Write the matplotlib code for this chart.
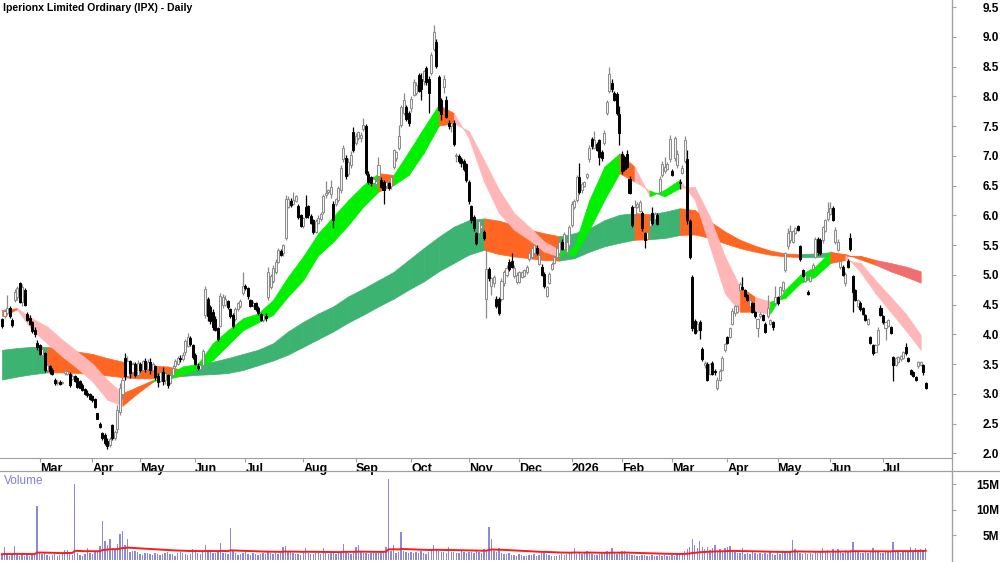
import numpy as np
import pandas as pd
import matplotlib
matplotlib.use('Agg')
import matplotlib.pyplot as plt
from matplotlib.lines import Line2D

plt.rcParams['font.family'] = ['Liberation Sans Narrow', 'Liberation Sans', 'DejaVu Sans']

TITLE = 'Iperionx Limited Ordinary (IPX) - Daily'
START = '2025-02-10'
HOLIDAYS = ['2025-04-18', '2025-04-21', '2025-04-25', '2025-06-09', '2025-12-25',
            '2025-12-26', '2026-01-01', '2026-01-26', '2026-04-03', '2026-04-06',
            '2026-06-08']

OPEN = [4.25, 4.30, 4.36, 4.45, 4.24, 4.58, 4.62, 4.86, 4.55, 4.75,
        4.35, 4.28, 4.20, 4.08, 3.86, 3.82, 3.66, 3.68, 3.40, 3.47,
        3.40, 3.24, 3.18, 3.20, 3.18, 3.35, 3.34, 3.34, 3.25, 3.30,
        3.26, 3.22, 3.15, 3.08, 3.02, 3.00, 2.96, 2.92, 2.67, 2.50,
        2.34, 2.30, 2.20, 2.14, 2.48, 2.25, 2.40, 2.70, 3.00, 3.60,
        3.30, 3.55, 3.36, 3.50, 3.32, 3.50, 3.40, 3.55, 3.42, 3.54,
        3.40, 3.46, 3.30, 3.22, 3.36, 3.24, 3.32, 3.18, 3.32, 3.46,
        3.50, 3.60, 3.58, 3.70, 3.80, 3.94, 3.82, 3.66, 3.46, 3.42,
        3.48, 4.32, 4.60, 4.46, 4.38, 4.25, 4.10, 4.14, 4.50, 4.50,
        4.56, 4.42, 4.32, 4.26, 4.42, 4.48, 4.70, 4.82, 4.78, 4.58,
        4.50, 4.52, 4.44, 4.34, 4.24, 4.30, 4.62, 4.80, 4.90, 5.04,
        5.22, 5.40, 5.36, 5.62, 6.14, 6.25, 6.20, 6.24, 6.15, 6.00,
        5.82, 6.14, 6.16, 5.99, 5.92, 5.72, 5.88, 5.94, 6.06, 6.34,
        6.40, 6.36, 6.20, 6.20, 6.26, 6.42, 6.94, 6.96, 6.70, 6.84,
        7.40, 7.22, 7.30, 7.30, 7.46, 7.50, 6.70, 6.64, 6.54, 6.52,
        6.66, 6.60, 6.56, 6.50, 6.54, 6.50, 6.82, 6.96, 7.14, 7.52,
        7.72, 7.82, 7.72, 7.80, 8.03, 8.06, 8.36, 8.30, 8.26, 8.48,
        8.30, 8.40, 8.80, 8.92, 8.33, 7.94, 8.16, 7.94, 7.56, 7.50,
        7.56, 7.00, 7.00, 6.94, 6.92, 6.86, 6.57, 6.15, 5.98, 5.70,
        5.70, 5.78, 5.72, 4.60, 5.10, 4.82, 4.86, 4.60, 4.60, 4.60,
        4.86, 5.00, 5.22, 5.24, 4.98, 4.88, 4.88, 4.96, 4.98, 5.04,
        5.26, 5.30, 5.36, 5.46, 5.18, 5.14, 5.02, 4.64, 4.86, 5.10,
        5.20, 5.30, 5.36, 5.56, 5.44, 5.38, 5.50, 5.84, 6.14, 6.26,
        6.64, 6.42, 6.50, 6.64, 6.94, 7.28, 7.14, 7.20, 7.26, 7.06,
        7.22, 7.72, 8.10, 8.22, 8.06, 8.04, 7.70, 7.04, 6.98, 7.04,
        6.62, 6.14, 6.02, 6.14, 6.08, 6.04, 5.70, 5.60, 5.82, 6.04,
        5.94, 6.00, 6.40, 6.68, 6.74, 6.78, 6.94, 6.74, 6.96, 6.84,
        6.56, 6.72, 6.92, 6.94, 5.90, 4.97, 4.22, 4.08, 4.20, 3.76,
        3.48, 3.50, 3.34, 3.52, 3.38, 3.10, 3.24, 3.40, 3.74, 3.96,
        3.96, 4.18, 4.36, 4.38, 4.74, 4.80, 4.74, 4.66, 4.48, 4.52,
        4.38, 4.10, 4.30, 4.32, 4.18, 4.30, 4.18, 4.20, 4.52, 4.62,
        4.64, 4.74, 5.08, 5.48, 5.58, 5.56, 5.70, 5.82, 5.48, 5.08,
        4.90, 4.72, 4.90, 5.10, 5.30, 5.60, 5.58, 5.58, 5.74, 5.94,
        6.02, 6.12, 5.56, 5.42, 5.14, 5.14, 4.86, 5.24, 5.62, 4.98,
        4.74, 4.48, 4.52, 4.44, 4.32, 4.18, 3.96, 3.82, 3.70, 3.84,
        4.44, 4.30, 4.10, 4.14, 4.12, 3.62, 3.48, 3.54, 3.58, 3.60,
        3.78, 3.60, 3.40, 3.36, 3.28, 3.46, 3.48, 3.48, 3.18]

HIGH = [4.28, 4.42, 4.66, 4.48, 4.27, 4.76, 4.82, 4.88, 4.84, 4.78,
        4.37, 4.32, 4.23, 4.12, 3.90, 3.84, 3.80, 3.70, 3.51, 3.49,
        3.43, 3.26, 3.23, 3.23, 3.22, 3.40, 3.40, 3.36, 3.34, 3.32,
        3.28, 3.23, 3.18, 3.10, 3.06, 3.01, 2.98, 2.93, 2.68, 2.52,
        2.36, 2.34, 2.25, 2.28, 2.50, 2.39, 2.81, 3.18, 3.29, 3.68,
        3.63, 3.57, 3.53, 3.54, 3.57, 3.54, 3.57, 3.60, 3.58, 3.60,
        3.54, 3.48, 3.35, 3.40, 3.45, 3.40, 3.34, 3.36, 3.48, 3.58,
        3.64, 3.66, 3.70, 3.92, 4.03, 3.98, 3.84, 3.68, 3.52, 3.50,
        3.76, 4.82, 4.63, 4.50, 4.42, 4.30, 4.12, 4.70, 4.68, 4.66,
        4.58, 4.44, 4.36, 4.46, 4.54, 4.60, 5.04, 4.85, 4.80, 4.60,
        4.56, 4.54, 4.48, 4.36, 4.34, 4.36, 5.14, 5.02, 5.16, 5.27,
        5.46, 5.44, 5.52, 6.34, 6.32, 6.30, 6.40, 6.34, 6.20, 6.02,
        5.98, 6.34, 6.18, 6.02, 5.94, 5.94, 6.00, 6.06, 6.36, 6.58,
        6.45, 6.60, 6.24, 6.30, 6.50, 6.84, 7.18, 7.02, 6.96, 7.08,
        7.48, 7.38, 7.42, 7.40, 7.64, 7.54, 6.74, 6.66, 6.66, 6.62,
        6.98, 6.64, 6.60, 6.60, 6.56, 6.68, 7.12, 7.08, 7.52, 7.86,
        8.06, 7.86, 7.76, 8.00, 8.30, 8.24, 8.40, 8.40, 8.45, 8.52,
        8.34, 8.75, 9.20, 8.96, 8.36, 7.98, 8.36, 8.00, 7.60, 7.58,
        7.60, 7.05, 7.04, 6.98, 6.95, 6.88, 6.60, 6.18, 6.00, 5.72,
        5.94, 5.88, 5.76, 5.46, 5.14, 4.96, 5.00, 4.64, 4.62, 4.94,
        5.08, 5.16, 5.26, 5.36, 5.16, 5.04, 5.06, 5.06, 5.10, 5.16,
        5.38, 5.48, 5.52, 5.50, 5.38, 5.18, 5.04, 4.82, 5.04, 5.22,
        5.32, 5.48, 5.60, 5.60, 5.72, 5.58, 5.84, 6.24, 6.28, 6.68,
        6.88, 6.56, 6.58, 6.72, 7.18, 7.32, 7.42, 7.24, 7.28, 7.10,
        7.44, 7.94, 8.50, 8.30, 8.10, 8.08, 7.84, 7.08, 7.02, 7.10,
        6.66, 6.18, 6.26, 6.22, 6.26, 6.08, 5.72, 5.76, 5.94, 6.14,
        6.06, 6.04, 6.66, 6.92, 6.98, 6.90, 7.35, 6.78, 7.34, 7.10,
        6.62, 6.84, 7.34, 7.10, 5.94, 5.00, 4.26, 4.22, 4.24, 3.78,
        3.56, 3.54, 3.52, 3.56, 3.42, 3.28, 3.42, 3.64, 3.86, 3.98,
        4.12, 4.44, 4.50, 4.50, 4.88, 4.96, 4.76, 4.68, 4.60, 4.54,
        4.40, 4.28, 4.38, 4.34, 4.20, 4.66, 4.26, 4.22, 4.82, 4.64,
        4.82, 4.90, 5.38, 5.78, 5.84, 5.76, 5.80, 5.84, 5.50, 5.10,
        5.02, 4.74, 5.02, 5.20, 5.64, 5.64, 5.62, 5.82, 5.94, 6.22,
        6.22, 6.16, 5.80, 5.60, 5.26, 5.16, 5.04, 5.26, 5.70, 5.00,
        4.76, 4.60, 4.56, 4.46, 4.34, 4.28, 3.98, 3.84, 3.84, 4.12,
        4.50, 4.32, 4.22, 4.26, 4.14, 3.64, 3.62, 3.64, 3.66, 3.72,
        3.85, 3.62, 3.42, 3.38, 3.30, 3.56, 3.56, 3.50, 3.20]

LOW = [4.10, 4.28, 4.33, 4.27, 4.12, 4.55, 4.58, 4.52, 4.48, 4.47,
       4.22, 4.15, 4.02, 3.95, 3.74, 3.65, 3.60, 3.36, 3.36, 3.34,
       3.32, 3.15, 3.15, 3.15, 3.17, 3.32, 3.32, 3.12, 3.23, 3.20,
       3.10, 3.09, 3.04, 2.98, 2.95, 2.90, 2.87, 2.76, 2.57, 2.42,
       2.22, 2.14, 2.08, 2.10, 2.22, 2.22, 2.34, 2.64, 2.92, 3.23,
       3.28, 3.26, 3.34, 3.29, 3.30, 3.36, 3.38, 3.36, 3.40, 3.34,
       3.37, 3.23, 3.12, 3.20, 3.15, 3.17, 3.10, 3.17, 3.29, 3.44,
       3.48, 3.53, 3.55, 3.66, 3.78, 3.80, 3.58, 3.48, 3.40, 3.40,
       3.44, 4.28, 4.22, 4.18, 4.08, 4.06, 3.88, 4.12, 4.44, 4.47,
       4.42, 4.28, 4.10, 4.22, 4.40, 4.44, 4.66, 4.74, 4.60, 4.46,
       4.46, 4.40, 4.32, 4.22, 4.20, 4.22, 4.58, 4.76, 4.86, 5.02,
       5.20, 5.32, 5.32, 5.59, 6.12, 6.14, 6.18, 6.22, 5.94, 5.80,
       5.79, 5.96, 5.96, 5.86, 5.68, 5.70, 5.86, 5.90, 6.02, 6.30,
       6.36, 6.30, 5.78, 6.16, 6.22, 6.38, 6.90, 6.62, 6.66, 6.80,
       7.06, 7.18, 7.26, 7.24, 7.42, 6.68, 6.52, 6.50, 6.50, 6.48,
       6.62, 6.46, 6.20, 6.46, 6.42, 6.44, 6.78, 6.92, 7.10, 7.48,
       7.68, 7.58, 7.50, 7.74, 8.00, 8.02, 8.08, 7.94, 8.20, 8.20,
       7.72, 8.36, 8.76, 8.48, 7.75, 7.60, 8.06, 7.64, 7.46, 7.40,
       7.16, 6.90, 6.88, 6.82, 6.74, 6.56, 6.20, 5.88, 5.74, 5.50,
       5.66, 5.74, 5.58, 4.27, 4.90, 4.66, 4.80, 4.44, 4.33, 4.56,
       4.82, 4.96, 5.06, 5.12, 4.94, 4.84, 4.86, 4.94, 4.96, 5.02,
       5.24, 5.28, 5.34, 5.34, 5.16, 4.98, 4.78, 4.62, 4.84, 5.08,
       5.18, 5.28, 5.34, 5.42, 5.40, 5.34, 5.46, 5.80, 6.10, 6.22,
       6.36, 6.38, 6.48, 6.62, 6.90, 7.12, 7.12, 7.08, 6.84, 6.92,
       7.18, 7.68, 8.06, 8.08, 7.92, 7.68, 7.18, 6.70, 6.74, 6.80,
       6.36, 5.80, 5.98, 6.12, 6.06, 5.74, 5.46, 5.58, 5.80, 5.84,
       5.90, 5.84, 6.36, 6.64, 6.72, 6.76, 6.90, 6.66, 6.92, 6.80,
       6.44, 6.70, 6.88, 5.86, 5.26, 4.06, 4.00, 4.04, 3.93, 3.56,
       3.44, 3.22, 3.32, 3.32, 3.32, 3.06, 3.22, 3.38, 3.70, 3.84,
       3.94, 4.16, 4.30, 4.36, 4.72, 4.74, 4.62, 4.56, 4.46, 4.36,
       4.28, 3.96, 4.28, 4.22, 4.02, 4.28, 4.16, 4.08, 4.50, 4.50,
       4.62, 4.72, 5.04, 5.44, 5.54, 5.54, 5.68, 5.74, 5.24, 4.96,
       4.88, 4.66, 4.88, 5.06, 5.28, 5.34, 5.34, 5.54, 5.72, 5.90,
       6.00, 5.90, 5.52, 5.40, 5.10, 4.98, 4.82, 5.12, 5.40, 4.38,
       4.56, 4.44, 4.40, 4.32, 4.22, 4.16, 3.84, 3.66, 3.68, 3.82,
       4.30, 4.18, 3.90, 4.12, 4.00, 3.22, 3.46, 3.52, 3.56, 3.58,
       3.66, 3.54, 3.32, 3.28, 3.22, 3.44, 3.46, 3.32, 3.08]

CLOSE = [4.14, 4.40, 4.45, 4.30, 4.15, 4.72, 4.78, 4.55, 4.80, 4.50,
         4.24, 4.18, 4.05, 4.00, 3.78, 3.67, 3.76, 3.40, 3.48, 3.38,
         3.34, 3.18, 3.20, 3.17, 3.20, 3.38, 3.39, 3.15, 3.30, 3.22,
         3.12, 3.10, 3.07, 3.00, 2.98, 2.92, 2.90, 2.78, 2.58, 2.44,
         2.25, 2.18, 2.12, 2.24, 2.26, 2.36, 2.72, 3.10, 3.24, 3.30,
         3.55, 3.35, 3.50, 3.32, 3.52, 3.40, 3.55, 3.42, 3.54, 3.40,
         3.50, 3.28, 3.20, 3.36, 3.22, 3.35, 3.15, 3.32, 3.44, 3.56,
         3.60, 3.58, 3.66, 3.88, 3.96, 3.84, 3.62, 3.50, 3.44, 3.48,
         3.72, 4.76, 4.30, 4.22, 4.12, 4.08, 3.92, 4.64, 4.62, 4.60,
         4.46, 4.30, 4.14, 4.42, 4.52, 4.56, 4.82, 4.78, 4.64, 4.48,
         4.52, 4.42, 4.36, 4.24, 4.32, 4.28, 5.05, 4.98, 5.12, 5.22,
         5.42, 5.34, 5.50, 6.28, 6.28, 6.18, 6.26, 6.32, 5.98, 5.82,
         5.96, 5.98, 6.00, 5.88, 5.72, 5.90, 5.96, 6.02, 6.32, 6.38,
         6.42, 6.48, 5.92, 6.28, 6.46, 6.80, 7.14, 6.66, 6.90, 7.02,
         7.10, 7.34, 7.40, 7.36, 7.52, 6.72, 6.56, 6.54, 6.62, 6.58,
         6.84, 6.48, 6.42, 6.56, 6.46, 6.64, 7.10, 7.06, 7.34, 7.82,
         7.94, 7.62, 7.56, 7.96, 8.25, 8.20, 8.10, 8.12, 8.42, 8.24,
         8.06, 8.70, 9.08, 8.52, 7.78, 7.70, 8.30, 7.66, 7.50, 7.55,
         7.20, 7.02, 6.92, 6.88, 6.78, 6.60, 6.24, 5.92, 5.78, 5.54,
         5.90, 5.84, 5.62, 5.10, 4.94, 4.94, 4.96, 4.47, 4.36, 4.90,
         5.04, 5.12, 5.10, 5.14, 5.12, 5.00, 5.04, 5.04, 5.08, 5.14,
         5.36, 5.46, 5.50, 5.36, 5.34, 5.00, 4.82, 4.80, 5.02, 5.18,
         5.30, 5.46, 5.56, 5.44, 5.68, 5.56, 5.80, 6.20, 6.24, 6.64,
         6.40, 6.52, 6.56, 6.70, 7.14, 7.16, 7.26, 7.10, 6.98, 6.96,
         7.38, 7.90, 8.38, 8.12, 7.94, 7.72, 7.38, 6.74, 6.78, 6.82,
         6.38, 5.84, 6.14, 6.20, 6.22, 5.78, 5.58, 5.72, 5.92, 5.88,
         6.02, 5.86, 6.62, 6.86, 6.82, 6.86, 7.28, 6.68, 7.30, 7.04,
         6.54, 6.80, 7.26, 5.92, 5.30, 4.10, 4.03, 4.18, 4.08, 3.58,
         3.52, 3.24, 3.50, 3.34, 3.36, 3.24, 3.38, 3.60, 3.84, 3.86,
         4.10, 4.40, 4.48, 4.48, 4.84, 4.76, 4.64, 4.58, 4.58, 4.38,
         4.30, 4.26, 4.35, 4.24, 4.04, 4.44, 4.24, 4.12, 4.62, 4.52,
         4.80, 4.88, 5.36, 5.70, 5.74, 5.74, 5.78, 5.76, 5.26, 4.98,
         5.00, 4.68, 4.98, 5.16, 5.60, 5.38, 5.36, 5.80, 5.92, 6.06,
         6.12, 5.92, 5.76, 5.56, 5.24, 5.00, 5.02, 5.14, 5.44, 4.72,
         4.58, 4.58, 4.42, 4.34, 4.24, 4.26, 3.86, 3.68, 3.82, 4.08,
         4.32, 4.20, 4.20, 4.24, 4.02, 3.48, 3.60, 3.62, 3.64, 3.70,
         3.68, 3.56, 3.34, 3.30, 3.24, 3.54, 3.54, 3.36, 3.10]

# daily volume, millions of shares
VOLUME = [1.2, 2.7, 1.0, 0.9, 1.1, 2.9, 1.0, 0.8, 1.2, 0.9, 1.0, 0.8, 1.1, 1.3, 10.8, 1.5, 1.2, 1.6, 1.1, 0.9,
          1.0, 1.2, 0.8, 1.0, 1.3, 2.0, 2.0, 1.2, 1.0, 15.0, 1.4, 1.1, 0.9, 1.2, 2.4, 1.5, 1.3, 1.6, 1.9, 2.9,
          7.8, 3.8, 3.0, 4.3, 2.4, 2.0, 3.2, 5.2, 5.8, 3.0, 4.2, 1.6, 1.8, 1.9, 1.6, 1.2, 1.0, 1.4, 1.5, 1.2,
          1.1, 1.5, 1.3, 1.0, 1.2, 1.4, 1.6, 1.3, 1.2, 0.9, 1.5, 1.6, 1.4, 1.2, 1.0, 1.3, 2.2, 1.7, 1.4, 1.3,
          1.6, 3.0, 1.9, 1.8, 1.5, 1.4, 1.6, 3.4, 1.5, 1.4, 1.2, 6.3, 1.8, 1.4, 1.0, 1.3, 1.5, 1.6, 1.2, 1.1,
          1.4, 1.2, 1.0, 1.3, 1.4, 1.2, 1.6, 1.5, 1.3, 1.4, 1.2, 1.5, 2.7, 2.9, 1.8, 1.6, 1.4, 1.2, 1.3, 1.1,
          1.4, 2.5, 1.5, 1.3, 1.2, 1.4, 1.6, 1.3, 2.4, 1.5, 1.2, 1.4, 1.6, 1.3, 1.5, 1.7, 3.2, 1.6, 1.4, 1.2,
          1.5, 2.7, 3.0, 1.6, 1.5, 1.4, 1.3, 1.5, 1.6, 1.4, 1.5, 1.6, 1.9, 2.6, 16.0, 1.8, 3.0, 1.5, 1.6, 5.5,
          1.8, 1.6, 1.4, 1.7, 1.5, 1.6, 1.4, 1.8, 1.5, 1.3, 1.6, 2.0, 3.0, 2.2, 1.9, 1.7, 1.6, 1.5, 2.6, 1.7,
          1.6, 1.4, 1.5, 1.8, 1.6, 1.5, 1.7, 1.6, 1.4, 1.8, 1.6, 1.5, 2.2, 2.0, 6.6, 4.3, 1.8, 1.6, 2.4, 1.5,
          1.3, 1.2, 1.4, 1.1, 1.0, 0.9, 1.2, 1.0, 0.8, 0.9, 1.1, 1.0, 1.2, 0.9, 1.1, 1.4, 1.5, 1.2, 1.0, 0.9,
          0.8, 0.9, 1.0, 1.2, 1.1, 1.3, 1.5, 1.6, 2.4, 1.2, 1.4, 1.3, 1.5, 1.9, 1.6, 1.2, 1.0, 1.1, 1.3, 1.2,
          1.5, 1.8, 1.6, 2.4, 1.4, 1.2, 1.6, 1.8, 1.9, 1.3, 1.2, 1.0, 1.1, 0.9, 0.8, 1.0, 1.1, 0.9, 0.8, 1.0,
          0.9, 0.8, 1.0, 0.9, 1.1, 0.8, 0.9, 1.0, 0.8, 1.1, 1.2, 1.4, 1.9, 2.2, 2.6, 4.2, 3.0, 2.4, 3.9, 2.6,
          2.2, 2.7, 2.0, 2.4, 3.0, 1.8, 2.2, 1.9, 2.4, 2.7, 2.8, 1.9, 1.6, 1.5, 1.4, 2.4, 1.3, 1.5, 1.2, 1.6,
          1.4, 1.3, 1.5, 1.2, 1.4, 1.3, 1.6, 1.2, 1.1, 1.5, 1.3, 1.6, 1.8, 1.5, 1.9, 4.1, 2.2, 1.6, 1.5, 1.3,
          1.4, 1.2, 1.5, 1.3, 1.6, 1.4, 1.9, 2.5, 1.6, 2.1, 1.5, 2.3, 1.7, 2.2, 1.6, 1.5, 2.0, 1.7, 2.1, 3.7,
          1.8, 1.6, 1.5, 1.4, 1.7, 1.5, 1.6, 2.4, 1.8, 1.6, 1.5, 1.4, 1.6, 1.9, 1.7, 3.6, 1.8, 1.6, 1.5, 1.7,
          1.9, 1.6, 2.7, 1.8, 2.5, 1.6, 2.2, 2.0, 2.4]

# ribbon edges read every 6 bars (bar numbers in SAMPLE_STEP steps from 0)
SAMPLE_STEP = 6
SHORT_FAST = [4.31, 4.42, 4.07, 3.85, 3.63, 3.43, 3.21, 2.90, 2.80, 3.01,
              3.20, 3.32, 3.46, 3.50, 3.85, 4.07, 4.27, 4.35, 4.58, 4.97,
              5.31, 5.70, 5.98, 6.26, 6.51, 6.71, 6.68, 7.07, 7.47, 7.86,
              7.72, 7.30, 6.57, 6.04, 5.76, 5.59, 5.39, 5.31, 5.48, 6.26,
              6.82, 7.04, 6.82, 6.32, 6.43, 6.60, 6.26, 5.48, 4.69, 4.38,
              4.38, 4.35, 4.75, 5.00, 5.14, 5.39, 5.33, 5.05, 4.69, 4.38,
              4.07, 3.74]
SHORT_SLOW = [4.41, 4.44, 4.27, 4.13, 3.91, 3.71, 3.51, 3.23, 3.01, 3.12,
              3.23, 3.24, 3.33, 3.41, 3.57, 3.82, 4.07, 4.20, 4.33, 4.64,
              4.91, 5.33, 5.56, 5.84, 6.15, 6.40, 6.51, 6.68, 7.05, 7.51,
              7.55, 7.42, 6.93, 6.43, 6.04, 5.81, 5.56, 5.42, 5.31, 5.76,
              6.26, 6.71, 6.57, 6.42, 6.32, 6.46, 6.48, 5.98, 5.31, 4.80,
              4.63, 4.55, 4.61, 4.86, 4.97, 5.20, 5.25, 5.20, 4.91, 4.63,
              4.35, 3.99]
LONG_FAST = [3.74, 3.77, 3.79, 3.79, 3.75, 3.71, 3.67, 3.60, 3.54, 3.50,
             3.47, 3.46, 3.40, 3.49, 3.54, 3.60, 3.67, 3.74, 3.85, 4.05,
             4.21, 4.35, 4.47, 4.64, 4.77, 4.91, 5.05, 5.25, 5.45, 5.64,
             5.81, 5.92, 5.95, 5.91, 5.84, 5.76, 5.70, 5.65, 5.70, 5.78,
             5.92, 6.01, 6.04, 6.02, 6.06, 6.12, 6.09, 5.90, 5.73, 5.59,
             5.49, 5.41, 5.36, 5.35, 5.36, 5.38, 5.35, 5.26, 5.17, 5.06,
             4.97, 4.87]
LONG_SLOW = [3.24, 3.29, 3.33, 3.36, 3.36, 3.35, 3.33, 3.31, 3.28, 3.26,
             3.26, 3.27, 3.30, 3.32, 3.33, 3.35, 3.40, 3.48, 3.56, 3.66,
             3.79, 3.92, 4.05, 4.20, 4.33, 4.47, 4.60, 4.75, 4.89, 5.06,
             5.20, 5.34, 5.42, 5.35, 5.31, 5.28, 5.25, 5.24, 5.28, 5.39,
             5.48, 5.54, 5.59, 5.60, 5.62, 5.67, 5.68, 5.62, 5.53, 5.45,
             5.39, 5.34, 5.31, 5.30, 5.30, 5.31, 5.32, 5.32, 5.25, 5.20,
             5.14, 5.06]

GREY = '#a0a0a0'

n = min(len(OPEN), len(HIGH), len(LOW), len(CLOSE), len(VOLUME))
x = np.arange(n)
o = np.array(OPEN[:n]); h = np.array(HIGH[:n]); l = np.array(LOW[:n]); c = np.array(CLOSE[:n])
vol = np.array(VOLUME[:n])

cbd = pd.offsets.CustomBusinessDay(holidays=HOLIDAYS)
dates = pd.date_range(START, periods=n, freq=cbd)

fig = plt.figure(figsize=(10, 5.62), dpi=100)
ax = fig.add_axes([0, 1 - 457.5 / 562, 0.952, 457.5 / 562])
axv = fig.add_axes([0, 0, 0.952, 91 / 562], sharex=ax)


def ribbon(axis, fast, slow, colours, gap, z):
    m = min(len(fast), len(slow))
    sx = np.arange(m) * SAMPLE_STEP
    for k in range(m - 1):
        above = fast[k + 1] > slow[k + 1]
        rising = fast[k + 1] >= fast[k]
        if above and rising:
            col = colours[0]
        elif (not above) and (not rising) and slow[k + 1] - fast[k + 1] > gap:
            col = colours[2]
        else:
            col = colours[1]
        axis.fill_between(sx[k:k + 2], fast[k:k + 2], slow[k:k + 2],
                          facecolor=col, edgecolor=col, lw=0.5, zorder=z)


ribbon(ax, LONG_FAST, LONG_SLOW, ['#3cb371', '#ff6622', '#f06e6e'], 0.1, 1)
ribbon(ax, SHORT_FAST, SHORT_SLOW, ['#00f000', '#ff6622', '#ffb6b6'], 0.0, 2)

# candles
up = c >= o
ax.vlines(x[up], l[up], h[up], color='#8a8a8a', lw=0.9, zorder=4)
ax.vlines(x[~up], l[~up], h[~up], color='black', lw=0.9, zorder=4)
body_lo = np.minimum(o, c)
body_h = np.maximum(np.abs(c - o), 0.02)
ax.bar(x[up], body_h[up], bottom=body_lo[up], width=0.82, color='#f4f4f4',
       edgecolor='#8a8a8a', lw=0.7, zorder=5)
ax.bar(x[~up], body_h[~up], bottom=body_lo[~up], width=0.82, color='black',
       edgecolor='black', lw=0.7, zorder=5)

# volume
axv.bar(x, vol, width=0.55, color='#8a8ad8', zorder=2)
vol_ma = pd.Series(vol).ewm(span=60, adjust=False).mean()
axv.plot(x, vol_ma, color='#ff1a1a', lw=1.4, zorder=3)

xmin, xmax = -2 / 2.51, (952 - 2) / 2.51
ax.set_xlim(xmin, xmax)
ax.set_ylim(1.929, 9.622)
axv.set_ylim(-0.336, 17.65)

# month ticks
per = dates.to_period('M')
first = [i for i in range(1, n) if per[i] != per[i - 1]]
mlabels = ['2026' if dates[i].month == 1 else dates[i].strftime('%b') for i in first]
ax.set_xticks(first)
ax.set_xticklabels(mlabels, ha='left', fontweight='bold', fontsize=9)
ax.tick_params(axis='x', length=3, width=0.8, color=GREY, pad=1)
axv.tick_params(axis='x', length=0, labelbottom=False)

ax.yaxis.tick_right()
yt = np.arange(2.0, 9.51, 0.5)
ax.set_yticks(yt)
ax.set_yticklabels([f'{v:.1f}' for v in yt], ha='right', fontweight='bold', fontsize=8.5)
ax.tick_params(axis='y', length=3, width=0.8, color=GREY, pad=31)

axv.yaxis.tick_right()
axv.set_yticks([5, 10, 15])
axv.set_yticklabels(['5M', '10M', '15M'], ha='right', fontweight='bold', fontsize=8.5)
axv.tick_params(axis='y', length=3, width=0.8, color=GREY, pad=31)

for a in (ax, axv):
    a.spines['left'].set_visible(False)
    a.spines['top'].set_visible(False)
    a.spines['right'].set_color(GREY)
    a.patch.set_alpha(0)
ax.spines['bottom'].set_color(GREY)
axv.spines['bottom'].set_visible(False)

fig.add_artist(Line2D([0, 1], [91 / 562, 91 / 562], color=GREY, lw=0.9))
fig.add_artist(Line2D([0.952, 0.952], [0, 1], color=GREY, lw=0.9))

fig.text(0.003, 1 - 8 / 562, TITLE, fontsize=7.6, fontweight='bold', va='center', ha='left')
fig.text(0.004, 1 - 481 / 562, 'Volume', fontsize=8.5, color='#8080c8', va='center', ha='left')

fig.savefig('out.png', dpi=100)
